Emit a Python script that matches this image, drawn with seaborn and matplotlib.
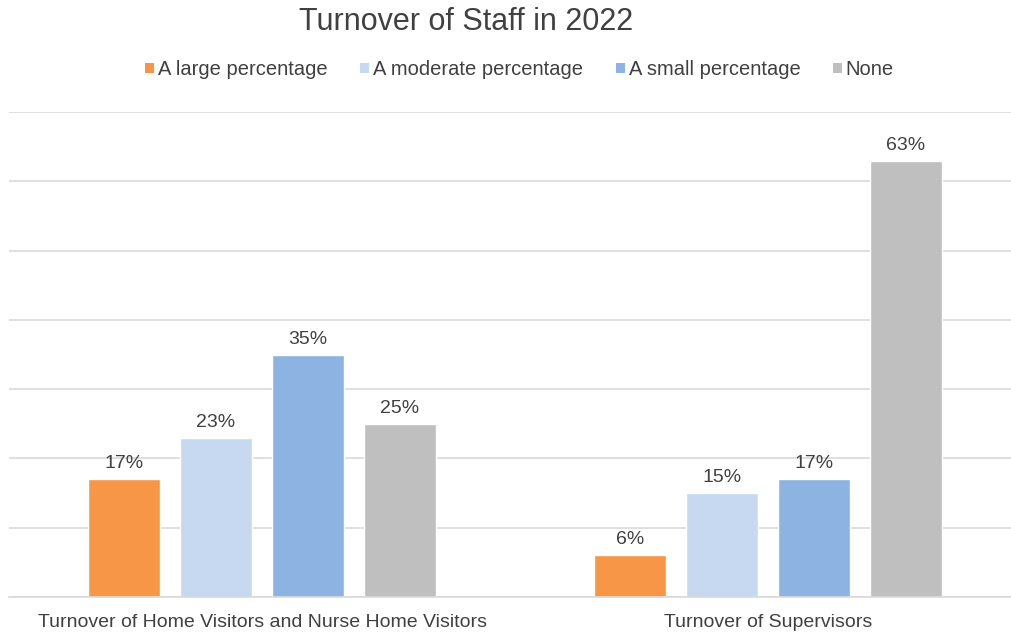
import matplotlib
matplotlib.use("Agg")
import matplotlib.pyplot as plt
import seaborn as sns
import pandas as pd
from matplotlib.patches import Patch

categories = ["Turnover of Home Visitors and Nurse Home Visitors", "Turnover of Supervisors"]
series = ["A large percentage", "A moderate percentage", "A small percentage", "None"]
large = [17, 6]
moderate = [23, 15]
small = [35, 17]
none = [25, 63]
colors = ["#F79646", "#C6D9F1", "#8DB3E2", "#BFBFBF"]

rows = []
for s, vals in zip(series, [large, moderate, small, none]):
    for c, v in zip(categories, vals):
        rows.append({"category": c, "series": s, "value": v})
df = pd.DataFrame(rows)

sns.set_theme(style="white")
plt.rcParams["font.family"] = ["Liberation Sans", "DejaVu Sans"]

fig = plt.figure(figsize=(10.11, 6.34), dpi=100)
ax = fig.add_axes([9/1011, 37/634, 1012/1011, 485/634])

sns.barplot(data=df, x="category", y="value", hue="series", order=categories,
            hue_order=series, palette=colors, width=0.727, gap=0.217,
            saturation=1, ax=ax, legend=False)

ax.set_xlim(-0.5, 1.5)
ax.set_ylim(0, 70)
ax.set_yticks(range(0, 71, 10))
ax.yaxis.grid(True, color="#D9D9D9", linewidth=1.2)
ax.set_axisbelow(True)
ax.tick_params(axis="y", left=False, labelleft=False)
ax.tick_params(axis="x", bottom=False, labelsize=14, labelcolor="#404040", pad=6)
for sp in ["top", "right", "left"]:
    ax.spines[sp].set_visible(False)
ax.spines["bottom"].set_color("#D9D9D9")
ax.spines["bottom"].set_linewidth(1.2)
ax.set_xlabel("")
ax.set_ylabel("")

for cont in ax.containers:
    ax.bar_label(cont, fmt="%d%%", padding=5, fontsize=14, color="#404040")

fig.text(0.4614, 0.965, "Turnover of Staff in 2022", ha="center", va="center",
         fontsize=22, color="#404040")

handles = [Patch(facecolor=c, edgecolor="none") for c in colors]
fig.legend(handles, series, loc="center", bbox_to_anchor=(0.514, 0.890), ncol=4,
           frameon=False, fontsize=14.5, handlelength=0.45, handleheight=0.45,
           handletextpad=0.2, columnspacing=1.6, labelcolor="#404040")

fig.savefig("out.png", dpi=100)
